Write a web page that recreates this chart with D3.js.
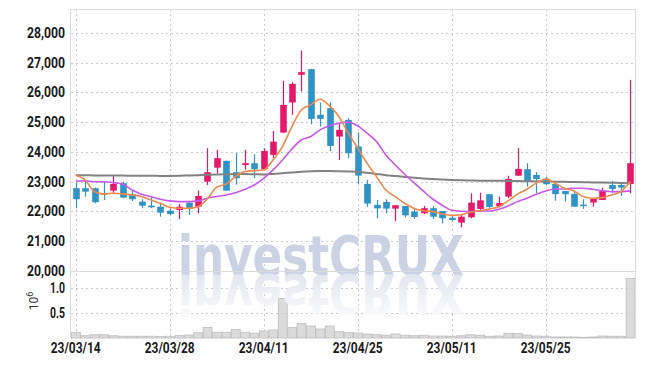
<!DOCTYPE html>
<html>
<head>
<meta charset="utf-8">
<script src="https://cdn.jsdelivr.net/npm/d3@7"></script>
<style>
body { margin: 0; background: #fff; }
text { font-family: Roboto, "Liberation Sans", sans-serif; }
</style>
</head>
<body>
<svg id="chart" width="645" height="366"></svg>
<script>
var dates = ["23/03/14","23/03/15","23/03/16","23/03/17","23/03/20","23/03/21","23/03/22","23/03/23","23/03/24","23/03/27",
  "23/03/28","23/03/29","23/03/30","23/03/31","23/04/03","23/04/04","23/04/05","23/04/06","23/04/07","23/04/10",
  "23/04/11","23/04/12","23/04/13","23/04/14","23/04/17","23/04/18","23/04/19","23/04/20","23/04/21","23/04/24",
  "23/04/25","23/04/26","23/04/27","23/04/28","23/05/02","23/05/03","23/05/04","23/05/08","23/05/09","23/05/10",
  "23/05/11","23/05/12","23/05/15","23/05/16","23/05/17","23/05/18","23/05/19","23/05/22","23/05/23","23/05/24",
  "23/05/25","23/05/26","23/05/30","23/05/31","23/06/01","23/06/02","23/06/05","23/06/07","23/06/08","23/06/09"];
var dateTicks = ["23/03/14","23/03/28","23/04/11","23/04/25","23/05/11","23/05/25"];
var priceTicks = [20000,21000,22000,23000,24000,25000,26000,27000,28000];
var volTicks = [0.5, 1.0];

var opens  = [22780,22780,22780,22620,22700,22950,22580,22330,22195,22160,22025,22050,22295,22160,23000,23470,23700,23320,23560,23620,
              23420,23900,24650,25660,26590,26780,25245,25470,24515,25075,24180,22925,22220,22320,22095,22185,21995,21940,22110,22015,
              21790,21625,21805,22085,22580,22175,22500,23200,23420,23225,23100,22925,22690,22590,22230,22300,22385,22890,22890,22925];
var highs  = [22970,23060,22800,23000,23193,23000,22700,22410,22480,22295,22110,22250,22330,22700,24125,24070,23710,23960,24070,23920,
              24125,24700,26390,26340,27405,26790,25660,25670,24965,25130,24650,23060,22385,22410,22210,22185,22110,22185,22185,22015,
              21880,21880,22610,22630,22580,22500,23200,24125,23620,23320,23170,22950,22690,22700,22410,22420,22800,23025,22970,26420];
var lows   = [22110,22500,22270,22380,22612,22445,22350,22110,22110,21825,21880,21740,21880,21940,22890,23280,22690,22900,23400,23115,
              23400,23800,24630,25245,26030,24930,24850,24030,23730,23790,22925,22160,21770,21940,21680,21805,21750,21910,21740,21600,
              21660,21470,21770,21995,22075,22140,22445,23200,22835,22610,22890,22360,22330,22160,22085,22160,22385,22610,22520,22610];
var closes = [22410,22665,22310,22600,22924,22465,22410,22195,22140,21960,21915,22160,22110,22520,23320,23790,22700,23115,23620,23420,
              24030,24345,25580,26285,26680,25110,25110,24200,24740,23955,23205,22265,22105,22095,22210,21870,21815,22110,21825,21770,
              21715,21825,22295,22375,22150,22285,23090,23430,23000,23090,22915,22580,22580,22160,22215,22420,22690,22755,22800,23620];

var maShort = [23227,23060,22665,22590,22610,22590,22555,22500,22385,22275,22140,22110,22110,22160,22420,22815,22920,23170,23340,23370,
               23395,23730,24180,24850,25410,25580,25770,25546,25187,24630,24125,23620,23170,22720,22500,22275,22100,22025,21995,21915,
               21870,21890,21975,22025,22085,22160,22355,22580,22745,22950,23090,22950,22780,22690,22500,22445,22465,22555,22665,23002];
var maMid   = [23025,23025,23000,23000,22970,22915,22720,22580,22500,22410,22355,22330,22330,22355,22445,22500,22555,22630,22745,22890,
               23115,23395,23730,24100,24400,24515,24740,24875,24965,25000,24875,24630,24350,23900,23560,23250,22960,22680,22410,22210,
               22040,22005,21995,22015,22015,22075,22185,22330,22445,22580,22690,22755,22755,22780,22780,22745,22700,22665,22665,22690];
var maLong  = [23220,23215,23210,23210,23205,23205,23200,23200,23200,23195,23195,23200,23210,23220,23235,23245,23250,23255,23255,23250,
               23245,23260,23285,23310,23335,23350,23355,23355,23350,23345,23335,23300,23260,23220,23190,23160,23135,23110,23090,23070,
               23055,23045,23040,23035,23035,23030,23025,23020,23015,23010,23005,23000,22995,22990,22985,22975,22970,22965,22955,22950];

var volumes = [0.11,0.045,0.065,0.065,0.045,0.035,0.035,0.035,0.035,0.03,0.035,0.05,0.06,0.105,0.21,0.115,0.115,0.17,0.115,0.095,
               0.14,0.16,0.79,0.21,0.29,0.24,0.18,0.24,0.125,0.11,0.1,0.08,0.065,0.055,0.08,0.055,0.045,0.055,0.04,0.04,
               0.035,0.045,0.065,0.055,0.035,0.04,0.095,0.09,0.06,0.04,0.035,0.02,0.02,0.02,0.015,0.02,0.04,0.035,0.035,1.19];

(function () {
var svg = d3.select("#chart");
var pl = 71, pr = 635, pt = 9, priceBottom = 271, volTop = 272, volBottom = 338;

var x = d3.scaleBand().domain(dates).range([pl, pr]);
var y = d3.scaleLinear().domain([20000, 28800]).range([priceBottom, pt]);
var yv = d3.scaleLinear().domain([0, 1.32]).range([volBottom, volTop]);
var cx = d => x(d) + x.bandwidth() / 2;

svg.append("rect").attr("width", 645).attr("height", 366).attr("fill", "#fff");

// volume bars
svg.append("g").selectAll("rect")
  .data(volumes)
  .join("rect")
  .attr("x", (d, i) => x(dates[i]) + 0.5)
  .attr("y", d => yv(d))
  .attr("width", x.bandwidth() - 0.5)
  .attr("height", d => volBottom - yv(d))
  .attr("fill", "#dbdbdb")
  .attr("stroke", "#bdbdbd")
  .attr("stroke-width", 0.8);

// gridlines
var grid = svg.append("g").attr("stroke", "#c6cbdc").attr("stroke-dasharray", "2,3").attr("stroke-width", 1);
grid.selectAll(".hp").data(priceTicks.slice(1)).join("line")
  .attr("x1", pl).attr("x2", pr)
  .attr("y1", d => Math.round(y(d)) + 0.5).attr("y2", d => Math.round(y(d)) + 0.5);
grid.selectAll(".hv").data(volTicks).join("line")
  .attr("x1", pl).attr("x2", pr)
  .attr("y1", d => Math.round(yv(d)) + 0.5).attr("y2", d => Math.round(yv(d)) + 0.5);
grid.selectAll(".v").data(dateTicks).join("line")
  .attr("x1", d => Math.round(cx(d)) + 0.5).attr("x2", d => Math.round(cx(d)) + 0.5)
  .attr("y1", pt).attr("y2", volBottom);

// watermark + reflection
var defs = svg.append("defs");
var grad = defs.append("linearGradient").attr("id", "fade").attr("x1", 0).attr("x2", 0).attr("y1", 0).attr("y2", 1);
grad.append("stop").attr("offset", "0%").attr("stop-color", "#ffffff");
grad.append("stop").attr("offset", "100%").attr("stop-color", "#dce0ec");
var wm = svg.append("g").style("font-weight", "bold");
wm.append("text").attr("x", 178).attr("y", 275).attr("font-size", 56)
  .attr("textLength", 286).attr("lengthAdjust", "spacingAndGlyphs")
  .attr("fill", "#cbd2e4").style("font-family", "'DejaVu Sans', sans-serif").text("investCRUX");
wm.append("text").attr("x", 178).attr("y", 275).attr("font-size", 56)
  .attr("textLength", 286).attr("lengthAdjust", "spacingAndGlyphs")
  .attr("transform", "translate(0,550) scale(1,-1)")
  .attr("fill", "url(#fade)").style("font-family", "'DejaVu Sans', sans-serif").text("investCRUX");

// frame
var frame = svg.append("g").attr("stroke", "#dcdcdc").attr("stroke-width", 1);
frame.append("line").attr("x1", pl - 0.5).attr("x2", pl - 0.5).attr("y1", pt).attr("y2", volBottom);
frame.append("line").attr("x1", pr + 0.5).attr("x2", pr + 0.5).attr("y1", pt).attr("y2", volBottom);
frame.append("line").attr("x1", pl).attr("x2", pr).attr("y1", pt + 0.5).attr("y2", pt + 0.5);
frame.append("line").attr("x1", pl).attr("x2", pr).attr("y1", priceBottom + 0.5).attr("y2", priceBottom + 0.5);

// candles
var up = "#e5196b", down = "#2f93c6";
var candles = svg.append("g").selectAll("g")
  .data(dates)
  .join("g")
  .attr("stroke", (d, i) => closes[i] >= opens[i] ? up : down)
  .attr("fill", (d, i) => closes[i] >= opens[i] ? up : down);
candles.append("line")
  .attr("x1", d => Math.round(cx(d)) + 0.5).attr("x2", d => Math.round(cx(d)) + 0.5)
  .attr("y1", (d, i) => y(highs[i])).attr("y2", (d, i) => y(lows[i]))
  .attr("stroke-width", 1.2);
candles.append("rect")
  .attr("x", d => Math.round(cx(d)) + 0.5 - 3.3)
  .attr("width", 6.6)
  .attr("y", (d, i) => y(Math.max(opens[i], closes[i])))
  .attr("height", (d, i) => Math.max(1.5, Math.abs(y(opens[i]) - y(closes[i]))))
  .attr("stroke", "none");

// moving averages
function maLine(vals, color, w) {
  var line = d3.line().x((d, i) => cx(dates[i])).y(d => y(d)).curve(d3.curveMonotoneX);
  svg.append("path").datum(vals).attr("d", line)
    .attr("fill", "none").attr("stroke", color).attr("stroke-width", w).attr("stroke-linejoin", "round");
}
maLine(maLong, "#828282", 2);
maLine(maMid, "#c957ea", 1.6);
maLine(maShort, "#ee8a4e", 1.6);

// axes
var yAxis = svg.append("g").attr("transform", `translate(${pl},0)`)
  .call(d3.axisLeft(y).tickValues(priceTicks).tickFormat(d3.format(",")).tickSize(0).tickPadding(6));
var vAxis = svg.append("g").attr("transform", `translate(${pl},0)`)
  .call(d3.axisLeft(yv).tickValues(volTicks).tickFormat(d3.format(".1f")).tickSize(0).tickPadding(6));
var xAxis = svg.append("g").attr("transform", `translate(0,${volBottom})`)
  .call(d3.axisBottom(x).tickValues(dateTicks).tickSize(0).tickPadding(5));
[yAxis, vAxis, xAxis].forEach(g => {
  g.select(".domain").remove();
  g.selectAll("text").attr("font-size", 14).attr("fill", "#1a1a1a").attr("font-weight", 700)
    .attr("lengthAdjust", "spacingAndGlyphs");
});
yAxis.selectAll("text").attr("textLength", 38);
vAxis.selectAll("text").attr("textLength", 15);
xAxis.selectAll("text").attr("textLength", 50);

var unit = svg.append("text").attr("transform", "translate(38,301) rotate(-90)")
  .attr("font-size", 12).attr("fill", "#333").attr("text-anchor", "middle");
unit.append("tspan").text("10");
unit.append("tspan").attr("dy", -5).attr("font-size", 9).text("6");
})();
</script>
</body>
</html>
